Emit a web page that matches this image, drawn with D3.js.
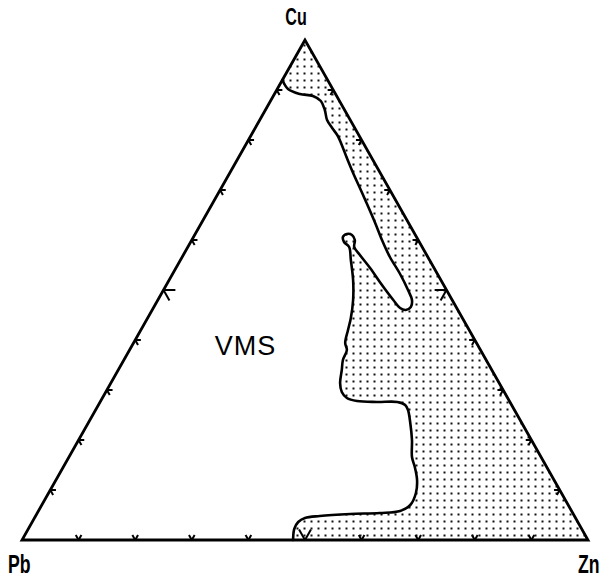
<!DOCTYPE html>
<html>
<head>
<meta charset="utf-8">
<script src="https://cdn.jsdelivr.net/npm/d3@7/dist/d3.min.js"></script>
<style>
  html, body { margin: 0; padding: 0; background: #fff; }
  svg { display: block; }
</style>
</head>
<body>
<svg id="chart" width="609" height="582"></svg>
<script>
// Ternary Cu–Pb–Zn diagram (percent), VMS field boundary.
const apices = ["Cu", "Pb", "Zn"];
const tickSteps = [10, 20, 30, 40, 50, 60, 70, 80, 90];

// Boundary of the stippled field, as [Cu, Pb, Zn] percentages,
// running from the Cu–Pb edge down to the Pb–Zn edge.
const boundary = [
  [92.0, 8.0, 0.0], [90.2, 7.9, 1.9], [89.2, 6.3, 4.5], [88.8, 4.2, 7.0],
  [87.8, 3.3, 8.9], [86.0, 3.5, 10.5], [84.0, 4.1, 11.9], [82.4, 4.0, 13.6],
  [80.8, 3.8, 15.4], [79.0, 4.0, 17.0], [76.4, 4.4, 19.2], [73.4, 4.8, 21.8],
  [70.4, 5.1, 24.5], [67.6, 5.4, 27.0], [63.4, 5.9, 30.7], [60.0, 6.4, 33.6],
  [56.6, 6.7, 36.7], [53.2, 6.6, 40.2], [50.0, 6.8, 43.2], [48.0, 7.1, 44.9],
  [46.6, 8.0, 45.4], [46.0, 9.2, 44.8], [46.4, 10.0, 43.6], [48.0, 10.4, 41.6],
  [51.0, 10.9, 38.1], [54.4, 11.3, 34.3], [57.0, 11.8, 31.2], [58.6, 12.0, 29.4],
  [60.0, 11.2, 28.8], [61.0, 11.2, 27.8], [61.2, 12.0, 26.8], [60.6, 13.0, 26.4],
  [59.6, 13.3, 27.1], [58.6, 12.9, 28.5], [56.0, 13.9, 30.1], [52.0, 15.5, 32.5],
  [48.0, 17.5, 34.5], [44.4, 19.7, 35.9], [42.0, 21.4, 36.6], [39.4, 23.2, 37.4],
  [38.0, 23.6, 38.4], [36.0, 25.3, 38.7], [34.0, 26.5, 39.5], [31.4, 28.1, 40.5],
  [29.6, 28.7, 41.7], [28.4, 28.4, 43.2], [27.8, 26.9, 45.3], [27.6, 23.5, 48.9],
  [27.6, 19.9, 52.5], [27.0, 18.8, 54.2], [26.0, 18.8, 55.2], [23.4, 19.7, 56.9],
  [20.0, 21.1, 58.9], [16.6, 22.8, 60.6], [14.6, 23.3, 62.1], [12.0, 24.2, 63.8],
  [9.4, 25.7, 64.9], [7.0, 27.9, 65.1], [5.8, 30.3, 63.9], [5.4, 34.1, 60.5],
  [5.2, 39.4, 55.4], [4.8, 45.0, 50.2], [4.4, 47.8, 47.8], [3.6, 49.4, 47.0],
  [2.2, 50.8, 47.0], [0.0, 52.1, 47.9]
];

// Field closes through the Zn and Cu apices.
const fieldCorners = [[0, 0, 100], [100, 0, 0]];

const svg = d3.select("#chart");

// Cu sets the height; Zn + Cu/2 sets the horizontal position.
const yScale = d3.scaleLinear().domain([0, 100]).range([540, 40]);
const xScale = d3.scaleLinear().domain([0, 100]).range([22, 588]);
const proj = ([cu, pb, zn]) => {
  const s = cu + pb + zn;
  const c = cu / s * 100, z = zn / s * 100;
  return [xScale(z + c / 2), yScale(c)];
};

// Stipple pattern
const defs = svg.append("defs");
const pat = defs.append("pattern")
  .attr("id", "stipple")
  .attr("patternUnits", "userSpaceOnUse")
  .attr("width", 7).attr("height", 7);
pat.append("rect")
  .attr("x", 2.5).attr("y", 2.5)
  .attr("width", 2).attr("height", 2)
  .attr("fill", "#111");

const line = d3.line().curve(d3.curveCatmullRom.alpha(0.5));
const poly = d3.line();

// Stippled field
const fieldPts = boundary.map(proj).concat(fieldCorners.map(proj));
svg.append("path")
  .attr("d", poly(fieldPts) + "Z")
  .attr("fill", "url(#stipple)")
  .attr("stroke", "none");

// Field boundary
svg.append("path")
  .attr("d", line(boundary.map(proj)))
  .attr("fill", "none")
  .attr("stroke", "#000")
  .attr("stroke-width", 2.6)
  .attr("stroke-linejoin", "round")
  .attr("stroke-linecap", "round");

// Triangle frame
const frame = [[100, 0, 0], [0, 100, 0], [0, 0, 100]].map(proj);
svg.append("path")
  .attr("d", poly(frame) + "Z")
  .attr("fill", "none")
  .attr("stroke", "#000")
  .attr("stroke-width", 2.8)
  .attr("stroke-linejoin", "miter");

// Edge ticks: short grid-line stubs pointing into the triangle
const tickSegs = [];
tickSteps.forEach(v => {
  const d = v === 50 ? 2.1 : 1.0;
  // Cu–Pb edge (Zn = 0)
  tickSegs.push([[v, 100 - v, 0], [v, 100 - v - d, d]]);
  tickSegs.push([[v, 100 - v, 0], [v - d, 100 - v, d]]);
  // Pb–Zn edge (Cu = 0)
  tickSegs.push([[0, 100 - v, v], [d, 100 - v - d, v]]);
  tickSegs.push([[0, 100 - v, v], [d, 100 - v, v - d]]);
  // Zn–Cu edge (Pb = 0)
  tickSegs.push([[v, 0, 100 - v], [v, d, 100 - v - d]]);
  tickSegs.push([[v, 0, 100 - v], [v - d, d, 100 - v]]);
});
svg.append("g")
  .selectAll("path")
  .data(tickSegs)
  .join("path")
  .attr("d", seg => poly(seg.map(proj)))
  .attr("stroke", "#000")
  .attr("stroke-width", 2)
  .attr("fill", "none");

// Apex labels (narrow lettering)
const labelFont = "'Liberation Sans', 'DejaVu Sans', sans-serif";
const labelPos = {
  Cu: { at: [100, 0, 0], dx: -9, dy: -15, size: 23, sx: 0.7, anchor: "middle" },
  Pb: { at: [0, 100, 0], dx: -14, dy: 33, size: 26, sx: 0.68, anchor: "start" },
  Zn: { at: [0, 0, 100], dx: -10, dy: 33, size: 26, sx: 0.68, anchor: "start" }
};
apices.forEach(name => {
  const p = labelPos[name];
  const [x, y] = proj(p.at);
  svg.append("text")
    .attr("transform", `translate(${x + p.dx},${y + p.dy}) scale(${p.sx},1)`)
    .attr("text-anchor", p.anchor)
    .attr("font-family", labelFont)
    .attr("font-weight", "bold")
    .attr("font-size", p.size)
    .text(name);
});

// Field label
const vmsPos = proj([37, 42, 21]);
svg.append("text")
  .attr("x", vmsPos[0]).attr("y", vmsPos[1])
  .attr("text-anchor", "middle")
  .attr("font-family", "'Liberation Sans', 'DejaVu Sans', sans-serif")
  .attr("font-size", 27)
  .attr("letter-spacing", 1)
  .text("VMS");
</script>
</body>
</html>
